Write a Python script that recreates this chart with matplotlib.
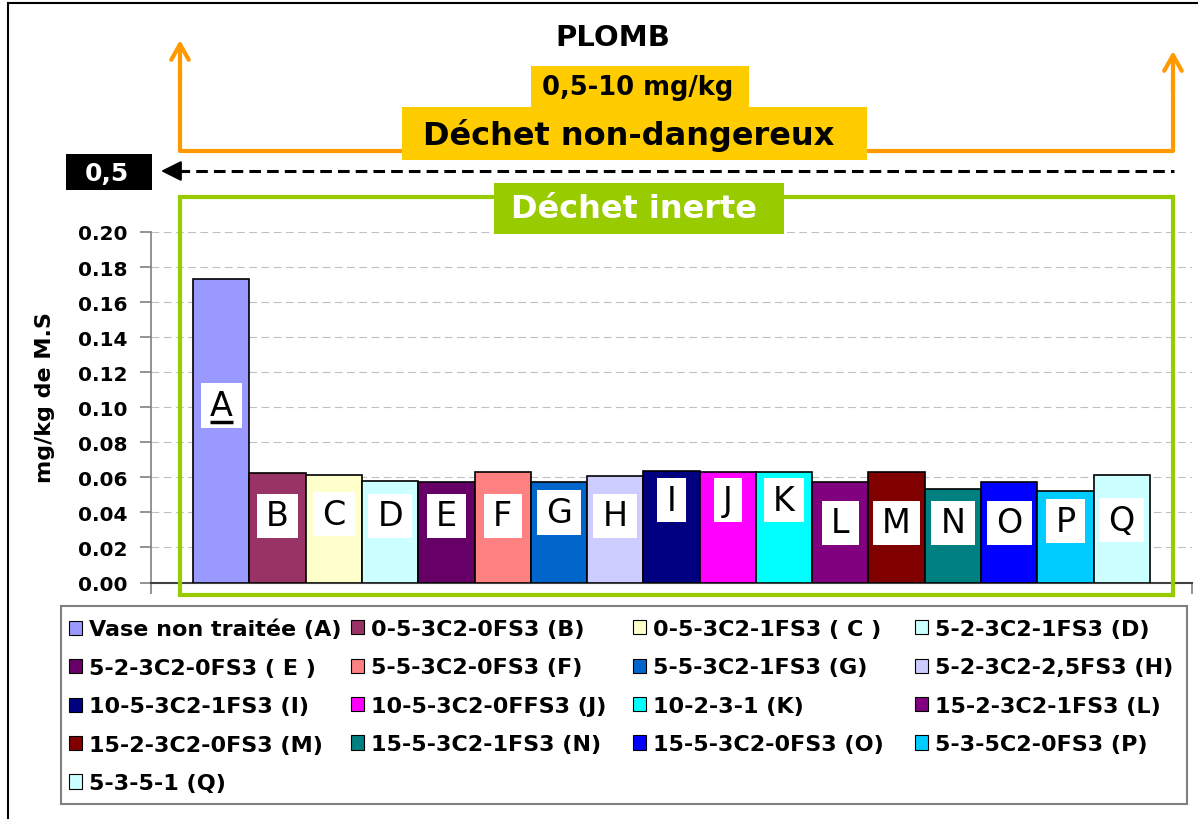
import numpy as np
import matplotlib
matplotlib.use("Agg")
import matplotlib.pyplot as plt
from matplotlib.patches import Rectangle, FancyArrowPatch, Patch
from matplotlib.lines import Line2D
from matplotlib.path import Path

# ---------------- data ----------------
letters = list("ABCDEFGHIJKLMNOPQ")
series_names = [
    "Vase non traitée (A)", "0-5-3C2-0FS3 (B)", "0-5-3C2-1FS3 ( C )", "5-2-3C2-1FS3 (D)",
    "5-2-3C2-0FS3 ( E )", "5-5-3C2-0FS3 (F)", "5-5-3C2-1FS3 (G)", "5-2-3C2-2,5FS3 (H)",
    "10-5-3C2-1FS3 (I)", "10-5-3C2-0FFS3 (J)", "10-2-3-1 (K)", "15-2-3C2-1FS3 (L)",
    "15-2-3C2-0FS3 (M)", "15-5-3C2-1FS3 (N)", "15-5-3C2-0FS3 (O)", "5-3-5C2-0FS3 (P)",
    "5-3-5-1 (Q)",
]
values = [0.1734, 0.0624, 0.0614, 0.0580, 0.0573, 0.0630, 0.0573, 0.0609, 0.0637,
          0.0630, 0.0630, 0.0573, 0.0630, 0.0536, 0.0573, 0.0523, 0.0614]
colors = ["#9999FF", "#993366", "#FFFFCC", "#CCFFFF", "#660066", "#FF8080", "#0066CC",
          "#CCCCFF", "#000080", "#FF00FF", "#00FFFF", "#800080", "#800000", "#008080",
          "#0000FF", "#00CCFF", "#CCFFFF"]
label_y = [0.101, 0.038, 0.039, 0.038, 0.038, 0.038, 0.040, 0.038, 0.047, 0.047, 0.047,
           0.034, 0.034, 0.034, 0.034, 0.035, 0.0355]
yticks = [0.00, 0.02, 0.04, 0.06, 0.08, 0.10, 0.12, 0.14, 0.16, 0.18, 0.20]

title = "PLOMB"
range_text = "0,5-10 mg/kg"
nd_text = "Déchet non-dangereux"
inert_text = "Déchet inerte"
limit_text = "0,5"
ylabel = "mg/kg de M.S"

ORANGE = "#FF9900"
GOLD = "#FFCC00"
GREEN = "#99CC00"

W, H = 1198, 820
fig = plt.figure(figsize=(W / 100, H / 100), dpi=100)
fig.patch.set_facecolor("white")


def P(x, y):
    return (x / W, 1 - y / H)


def box(x0, y0, x1, y1, **kw):
    r = Rectangle(P(x0, y1), (x1 - x0) / W, (y1 - y0) / H, transform=fig.transFigure, **kw)
    fig.add_artist(r)
    return r


def line(xs, ys, **kw):
    l = Line2D([x / W for x in xs], [1 - y / H for y in ys], transform=fig.transFigure, **kw)
    fig.add_artist(l)
    return l


def label_box(x0, y0, width, height, mutation_size):
    px = 0.28 * mutation_size
    py = 0.17 * mutation_size
    x0, y0 = x0 - px, y0 - py
    x1, y1 = x0 + width + 2 * px, y0 + height + 2 * py
    return Path([(x0, y0), (x1, y0), (x1, y1), (x0, y1), (x0, y0)],
                closed=True)


# ---------------- axes ----------------
ax = fig.add_axes([151 / W, 1 - 583.5 / H, (1192 - 151) / W, (583.5 - 233) / H])
x = np.arange(len(values))
ax.bar(x, values, width=1.0, color=colors, edgecolor="black", linewidth=1.2, zorder=3)
ax.set_xlim(-1.25, 17.25)
ax.set_ylim(0, 0.20)
ax.set_yticks(yticks)
ax.set_yticklabels([f"{t:.2f}" for t in yticks], fontsize=14.5, fontweight="bold")
ax.yaxis.grid(True, color="#C0C0C0", linestyle=(0, (7, 4)), linewidth=0.8)
ax.set_axisbelow(True)
for s in ("top", "right"):
    ax.spines[s].set_visible(False)
ax.spines["left"].set_color("#808080")
ax.spines["left"].set_linewidth(1.2)
ax.spines["bottom"].set_color("#404040")
ax.spines["bottom"].set_linewidth(1.5)
ax.set_xticks([-1.25, 17.25])
ax.set_xticklabels([])
ax.tick_params(axis="x", direction="out", length=8, color="#808080", width=1.2)
ax.tick_params(axis="y", direction="out", length=8, color="#808080", width=1.2, pad=9)

for i, (lt, ly) in enumerate(zip(letters, label_y)):
    ax.text(x[i], ly, lt, ha="center", va="center", fontsize=24, color="black", zorder=5,
            bbox=dict(facecolor="white", edgecolor="none", boxstyle=label_box))
# underline of the "A" label
ax.plot([x[0] - 0.21, x[0] + 0.21], [label_y[0] - 0.0092] * 2, color="black", lw=2.5,
        solid_capstyle="butt", zorder=6)

# ---------------- figure decorations ----------------
box(8, 4, 1300, 900, fill=False, edgecolor="black", linewidth=1.5)

fig.text(*P(613, 38), title, ha="center", va="center", fontsize=21, fontweight="bold")

line([402, 180, 180], [152, 152, 70], color=ORANGE, lw=3, solid_capstyle="butt", zorder=1)
line([866, 1173, 1173], [152, 152, 80], color=ORANGE, lw=3, solid_capstyle="butt", zorder=1)
for xa, ya in ((180, 41), (1173, 52)):
    fig.add_artist(FancyArrowPatch(P(xa, ya + 40), P(xa, ya), transform=fig.transFigure,
                                   arrowstyle="->,head_length=0.8,head_width=0.45",
                                   mutation_scale=14, color=ORANGE, lw=3,
                                   shrinkA=0, shrinkB=0))

box(531, 67, 749, 109, facecolor=GOLD, edgecolor="none", zorder=2)
fig.text(*P(638, 88), range_text, ha="center", va="center", fontsize=18.5, fontweight="bold", zorder=4)
box(402, 108, 867, 161, facecolor=GOLD, edgecolor="none", zorder=2)
fig.text(*P(629, 135), nd_text, ha="center", va="center", fontsize=23, fontweight="bold", zorder=4)

box(66, 155, 152, 191, facecolor="black", edgecolor="none")
fig.text(*P(107, 174), limit_text, ha="center", va="center", fontsize=18, fontweight="bold", color="white")
line([178, 1174], [172, 172], color="black", lw=2.2, linestyle=(0, (3.8, 2.0)))
fig.add_artist(FancyArrowPatch(P(185, 172), P(161, 172), transform=fig.transFigure,
                               arrowstyle="-|>,head_length=0.9,head_width=0.45",
                               mutation_scale=14, color="black", lw=1.5,
                               shrinkA=0, shrinkB=0))

box(180, 198, 1173, 596, fill=False, edgecolor=GREEN, linewidth=3)
box(494, 184, 784, 235, facecolor=GREEN, edgecolor="none")
fig.text(*P(634, 210), inert_text, ha="center", va="center", fontsize=23, fontweight="bold", color="white")

fig.text(*P(45, 398), ylabel, rotation=90, ha="center", va="center", fontsize=16, fontweight="bold")

# ---------------- legend (4 equal-width columns, filled row by row) ----------------
box(61, 607, 1187, 805, fill=False, edgecolor="#808080", linewidth=1.5)
handles = [Patch(facecolor=c, edgecolor="black", linewidth=0.8) for c in colors]
ncol = 4
col_x = [69, 351, 633, 915]
for c in range(ncol):
    idx = list(range(c, len(series_names), ncol))
    fig.legend([handles[i] for i in idx], [series_names[i] for i in idx],
               loc="upper left", bbox_to_anchor=P(col_x[c], 620),
               bbox_transform=fig.transFigure, ncol=1,
               prop=dict(weight="bold", size=16), frameon=False,
               borderaxespad=0, borderpad=0, handlelength=0.6, handleheight=0.6,
               handletextpad=0.3, labelspacing=0.83)

fig.savefig("out.png", dpi=100)
